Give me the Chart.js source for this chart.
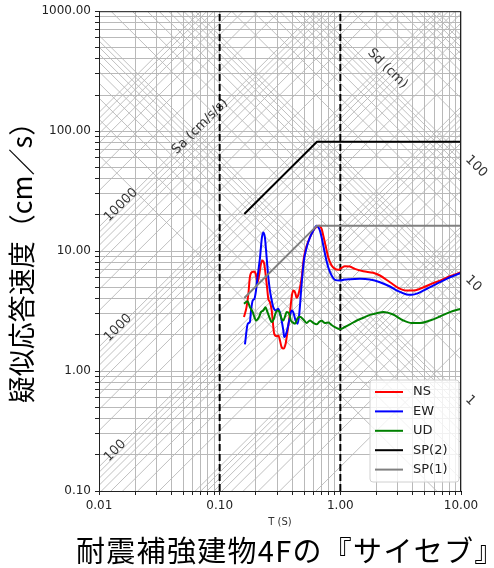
<!DOCTYPE html>
<html>
<head>
<meta charset="utf-8">
<script src="https://cdn.jsdelivr.net/npm/chart.js@4.4.1/dist/chart.umd.min.js"></script>
<style>
  body { margin: 0; background: #fff; }
  #wrap { position: relative; width: 494px; height: 568px; overflow: hidden; }
  #ytitle {
    position: absolute; left: -129px; top: 241px; width: 300px; height: 30px;
    line-height: 30px; text-align: center; font-size: 27px; color: #000;
    font-family: "Noto Sans CJK JP", sans-serif; transform: rotate(-90deg); white-space: nowrap;
  }
  #caption {
    position: absolute; left: 72px; top: 531px; width: 422px; height: 37px;
    background: #fff; font-size: 29px; line-height: 37px; padding-left: 4px; color: #000;
    letter-spacing: 1.3px;
    font-family: "Noto Sans CJK JP", sans-serif; white-space: nowrap;
  }
</style>
</head>
<body>
<div id="wrap">
  <canvas id="grafico" width="494" height="568"></canvas>
  <div id="ytitle">疑似応答速度（cm／s）</div>
  <div id="caption">耐震補強建物4Fの『サイセブ』</div>
</div>
<script>
// assi logaritmici (decadi)
const xDecades = [0.01, 0.1, 1, 10];
const yDecades = [0.1, 1, 10, 100, 1000];

// griglia diagonale (Sa cm/s/s, Sd cm)
const saGridDecades = [1, 10, 100, 1000, 10000];
const sdGridDecades = [0.1, 1, 10, 100, 1000];
const saLabels = [100, 1000, 10000];
const sdLabels = [1, 10, 100];

// linee verticali tratteggiate
const dashedPeriods = [0.1, 1.0];

// NS
const nsPeriod = [0.159,0.167,0.173,0.178,0.184,0.194,0.199,0.206,0.212,0.220,0.225,0.234,0.240,0.247,0.253,0.261,0.270,0.275,0.283,0.297,0.306,0.316,0.326,0.339,0.352,0.366,0.382,0.395,0.407,0.421,0.435,0.448,0.478,0.499,0.526,0.560,0.596,0.636,0.669,0.700,0.722,0.760,0.794,0.847,0.902,0.961,1.025,1.09,1.20,1.32,1.55,1.87,2.13,2.58,3.02,3.54,4.02,4.57,5.53,6.69,8.09,10];
const nsSv = [2.82,3.41,4.41,6.06,6.66,6.75,6.46,5.50,6.26,7.83,8.34,7.83,6.46,5.00,4.00,3.75,3.20,2.64,2.05,1.95,1.98,1.80,1.58,1.54,1.69,2.18,3.01,4.13,4.69,4.54,4.08,4.30,6.0,8.8,11.0,13.0,14.8,16.0,16.3,15.3,13.5,10.75,8.88,7.58,7.11,6.98,7.25,7.48,7.43,7.11,6.79,6.59,6.26,5.50,4.94,4.69,4.69,4.85,5.27,5.68,6.17,6.66];

// EW
const ewPeriod = [0.162,0.171,0.178,0.182,0.188,0.194,0.200,0.206,0.216,0.224,0.230,0.237,0.245,0.253,0.261,0.270,0.278,0.293,0.306,0.320,0.337,0.343,0.359,0.377,0.395,0.407,0.426,0.443,0.457,0.478,0.499,0.526,0.560,0.596,0.636,0.669,0.700,0.746,0.794,0.847,0.902,0.992,1.09,1.20,1.45,1.76,2.13,2.58,3.02,3.54,3.90,4.42,5.19,6.28,7.60,10];
const ewSv = [1.67,2.48,2.56,3.20,3.88,4.00,4.69,6.06,8.88,13.0,14.3,13.0,8.88,6.06,4.69,3.88,3.41,3.20,3.31,2.91,2.18,1.92,2.11,2.64,3.20,3.10,2.64,2.48,3.01,5.34,8.34,10.75,13.0,14.8,16.3,15.3,13.0,9.48,7.33,6.26,5.76,5.68,5.79,5.83,5.87,5.79,5.50,5.07,4.63,4.35,4.32,4.46,4.85,5.34,5.87,6.59];

// UD
const udPeriod = [0.159,0.170,0.178,0.188,0.194,0.200,0.212,0.220,0.230,0.240,0.246,0.261,0.270,0.281,0.293,0.303,0.313,0.326,0.337,0.348,0.359,0.377,0.389,0.399,0.421,0.440,0.463,0.493,0.526,0.560,0.596,0.636,0.669,0.700,0.746,0.794,0.847,0.902,0.961,1.00,1.09,1.20,1.37,1.55,1.76,2.00,2.27,2.74,3.32,3.90,4.57,5.53,6.69,8.09,10];
const udSv = [3.64,3.82,3.41,3.10,2.82,2.64,2.82,3.10,3.20,3.41,3.20,2.73,2.56,2.73,3.10,3.20,3.10,2.73,2.64,2.85,3.10,3.01,2.64,2.56,2.48,2.73,2.83,2.69,2.52,2.64,2.52,2.45,2.57,2.62,2.52,2.54,2.42,2.32,2.25,2.24,2.33,2.45,2.64,2.78,2.94,3.03,3.11,2.96,2.64,2.51,2.51,2.64,2.85,3.10,3.31];

// spettri di progetto
const spPeriod = [0.16, 0.64, 10];
const sp2Sv = [20.4, 81.5, 81.5];
const sp1Sv = [4.07, 16.3, 16.3];

const FONT = "'DejaVu Sans', sans-serif";
const DUE_PI = 2 * Math.PI;
const GRIGIO = '#b9b9b9';

function punti(periodi, valori) {
    return periodi.map((t, i) => ({ x: t, y: valori[i] }));
}

function ticksLog(decadi) {
    const t = [];
    decadi.forEach((d, i) => {
        for (let m = 1; m <= 9; m++) {
            if (i === decadi.length - 1 && m > 1) break;
            t.push({ value: Number((m * d).toPrecision(6)) });
        }
    });
    return t;
}

function valoriGriglia(decadi) {
    const v = [];
    decadi.forEach(d => { for (let m = 1; m <= 9; m++) v.push(m * d); });
    return v;
}

function isDecade(v) {
    const l = Math.log10(v);
    return Math.abs(l - Math.round(l)) < 1e-6;
}

// griglia tripartita + bordo
const pluginTripartito = {
    id: 'tripartito',
    beforeDatasetsDraw: (chart) => {
        const ctx = chart.ctx;
        const area = chart.chartArea;
        const xs = chart.scales.x, ys = chart.scales.y;
        const tMin = 0.005, tMax = 20;
        ctx.save();
        ctx.beginPath();
        ctx.rect(area.left, area.top, area.right - area.left, area.bottom - area.top);
        ctx.clip();
        ctx.strokeStyle = GRIGIO;
        ctx.lineWidth = 0.9;
        valoriGriglia(saGridDecades).forEach(sa => {
            ctx.beginPath();
            ctx.moveTo(xs.getPixelForValue(tMin), ys.getPixelForValue(sa * tMin / DUE_PI));
            ctx.lineTo(xs.getPixelForValue(tMax), ys.getPixelForValue(sa * tMax / DUE_PI));
            ctx.stroke();
        });
        valoriGriglia(sdGridDecades).forEach(sd => {
            ctx.beginPath();
            ctx.moveTo(xs.getPixelForValue(tMin), ys.getPixelForValue(sd * DUE_PI / tMin));
            ctx.lineTo(xs.getPixelForValue(tMax), ys.getPixelForValue(sd * DUE_PI / tMax));
            ctx.stroke();
        });
        ctx.restore();

        // etichette Sa / Sd
        ctx.save();
        ctx.fillStyle = '#333';
        ctx.font = '13px ' + FONT;
        ctx.textBaseline = 'middle';
        ctx.textAlign = 'left';
        const angSa = Math.atan2(ys.getPixelForValue(10) - ys.getPixelForValue(1), xs.getPixelForValue(10) - xs.getPixelForValue(1));
        saLabels.forEach(sa => {
            const t = 0.0115;
            ctx.save();
            ctx.translate(xs.getPixelForValue(t), ys.getPixelForValue(sa * t / DUE_PI));
            ctx.rotate(angSa);
            ctx.fillText(String(sa), 0, 0);
            ctx.restore();
        });
        sdLabels.forEach(sd => {
            const t = 11.3;
            ctx.save();
            ctx.translate(xs.getPixelForValue(t), ys.getPixelForValue(sd * DUE_PI / t) - 4);
            ctx.rotate(-angSa);
            ctx.fillText(String(sd), 0, 0);
            ctx.restore();
        });
        ctx.textAlign = 'center';
        ctx.save();
        ctx.translate(xs.getPixelForValue(0.0687), ys.getPixelForValue(10000 * 0.0687 / DUE_PI));
        ctx.rotate(angSa);
        ctx.fillText('Sa (cm/s/s)', 0, 0);
        ctx.restore();
        ctx.save();
        ctx.translate(xs.getPixelForValue(2.46), ys.getPixelForValue(130 * DUE_PI / 2.46));
        ctx.rotate(-angSa);
        ctx.fillText('Sd (cm)', 0, 0);
        ctx.restore();
        ctx.restore();
    },
    afterDraw: (chart) => {
        const ctx = chart.ctx;
        const area = chart.chartArea;
        ctx.save();
        ctx.strokeStyle = '#222';
        ctx.lineWidth = 1;
        ctx.strokeRect(area.left + 0.5, area.top + 0.5, area.right - area.left - 1, area.bottom - area.top);

        // titolo asse x
        ctx.fillStyle = '#333';
        ctx.font = '10px ' + FONT;
        ctx.textAlign = 'center';
        ctx.textBaseline = 'middle';
        ctx.fillText('T (S)', (area.left + area.right) / 2, 522);

        // legenda dentro l'area
        const voci = chart.data.datasets.filter(ds => !ds.senzaLegenda);
        const bw = 89, bh = 102;
        const bx = area.right - bw - 2, by = area.bottom - bh - 9;
        ctx.beginPath();
        ctx.roundRect(bx, by, bw, bh, 3);
        ctx.fillStyle = 'rgba(255,255,255,0.8)';
        ctx.fill();
        ctx.strokeStyle = '#d0d0d0';
        ctx.stroke();
        ctx.font = '13px ' + FONT;
        ctx.textAlign = 'left';
        voci.forEach((ds, i) => {
            const yy = by + 12 + i * 19.4;
            ctx.beginPath();
            ctx.strokeStyle = ds.borderColor;
            ctx.lineWidth = 2;
            ctx.moveTo(bx + 5, yy);
            ctx.lineTo(bx + 33, yy);
            ctx.stroke();
            ctx.fillStyle = '#222';
            ctx.fillText(ds.label, bx + 43, yy);
        });
        ctx.restore();
    }
};

const lineeTratteggiate = dashedPeriods.map(t => ({
    label: 'T=' + t,
    data: [{ x: t, y: yDecades[0] }, { x: t, y: yDecades[yDecades.length - 1] }],
    borderColor: '#000', borderWidth: 2, borderDash: [7, 3],
    pointRadius: 0, senzaLegenda: true, order: 10
}));

function curva(label, periodi, valori, colore, ordine, liscia) {
    return {
        label: label,
        data: punti(periodi, valori),
        borderColor: colore, backgroundColor: colore,
        borderWidth: 2, pointRadius: 0, fill: false,
        cubicInterpolationMode: liscia ? 'monotone' : 'default',
        tension: 0, order: ordine
    };
}

function opzioniAsse(min, max, decadi, extra) {
    return Object.assign({
        type: 'logarithmic', min: min, max: max,
        afterBuildTicks: (scale) => { scale.ticks = ticksLog(decadi); },
        grid: { color: GRIGIO, lineWidth: 1, tickLength: 4, tickColor: '#222', drawTicks: true },
        border: { display: true, color: '#000', width: 1 },
        ticks: {
            autoSkip: false, maxRotation: 0, minRotation: 0, padding: 4,
            color: '#222', font: { family: FONT, size: 12 },
            callback: (v) => isDecade(v) ? Number(v).toFixed(2) : ''
        }
    }, extra);
}

new Chart(document.getElementById('grafico'), {
    type: 'line',
    data: {
        datasets: [
            ...lineeTratteggiate,
            curva('NS', nsPeriod, nsSv, '#ff0000', 5, true),
            curva('EW', ewPeriod, ewSv, '#0000ff', 4, true),
            curva('UD', udPeriod, udSv, '#008000', 3, true),
            curva('SP(2)', spPeriod, sp2Sv, '#000000', 2, false),
            curva('SP(1)', spPeriod, sp1Sv, '#808080', 1, false)
        ]
    },
    options: {
        responsive: false,
        animation: false,
        devicePixelRatio: 1,
        layout: { padding: { top: 10, right: 33, left: 0, bottom: 0 } },
        plugins: { legend: { display: false }, tooltip: { enabled: false } },
        scales: {
            x: opzioniAsse(xDecades[0], xDecades[xDecades.length - 1], xDecades, {
                afterFit: (scale) => { scale.height = 77; }
            }),
            y: opzioniAsse(yDecades[0], yDecades[yDecades.length - 1], yDecades, {
                afterFit: (scale) => { scale.width = 99; }
            })
        }
    },
    plugins: [pluginTripartito]
});
</script>
</body>
</html>
